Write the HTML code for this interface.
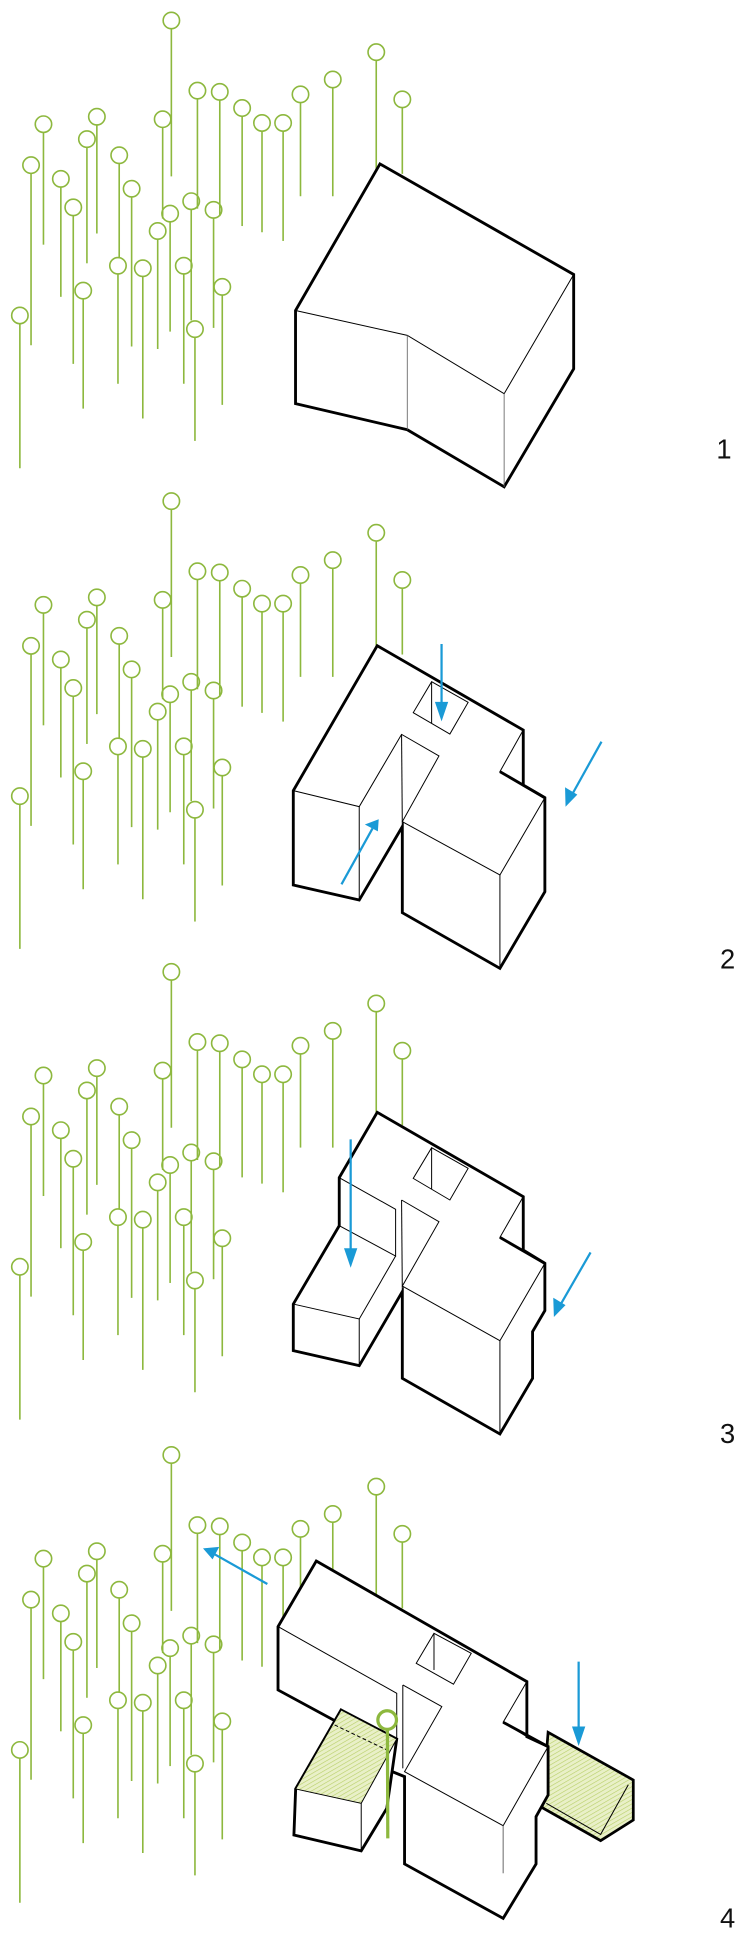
<!DOCTYPE html>
<html><head><meta charset="utf-8"><style>
html,body{margin:0;padding:0;background:#fff;}
svg{display:block;}
</style></head><body>
<svg width="750" height="1935" viewBox="0 0 604 1558" preserveAspectRatio="none" xmlns="http://www.w3.org/2000/svg">
<defs>
<pattern id="gr" width="3" height="3" patternUnits="userSpaceOnUse" patternTransform="rotate(60)">
<rect width="3" height="3" fill="#e9f0c8"/><line x1="0" y1="0" x2="0" y2="3" stroke="#b9cf6a" stroke-width="1"/>
</pattern>
<g id="trees" fill="none" stroke="#8db83e" stroke-width="1.3">
<g id="p">
<circle cx="138" cy="16.5" r="6.6"/><line x1="138" y1="23" x2="138" y2="142"/>
<circle cx="303" cy="42" r="6.6"/><line x1="303" y1="48.6" x2="303" y2="140"/>
<circle cx="268" cy="64" r="6.6"/><line x1="268" y1="70.6" x2="268" y2="158"/>
<circle cx="242" cy="76" r="6.6"/><line x1="242" y1="82.6" x2="242" y2="158"/>
<circle cx="324" cy="80" r="6.6"/><line x1="324" y1="86.6" x2="324" y2="140"/>
<circle cx="159" cy="73" r="6.6"/><line x1="159" y1="79.6" x2="159" y2="168"/>
<circle cx="177" cy="74" r="6.6"/><line x1="177" y1="80.6" x2="177" y2="174"/>
<circle cx="195" cy="87" r="6.6"/><line x1="195" y1="93.6" x2="195" y2="182"/>
<circle cx="211" cy="99" r="6.6"/><line x1="211" y1="105.6" x2="211" y2="187"/>
<circle cx="228" cy="99" r="6.6"/><line x1="228" y1="105.6" x2="228" y2="194"/>
<circle cx="131" cy="96" r="6.6"/><line x1="131" y1="102.6" x2="131" y2="176"/>
<circle cx="35" cy="100" r="6.6"/><line x1="35" y1="106.6" x2="35" y2="197"/>
<circle cx="78" cy="94" r="6.6"/><line x1="78" y1="100.6" x2="78" y2="188"/>
<circle cx="70" cy="112" r="6.6"/><line x1="70" y1="118.6" x2="70" y2="212"/>
<circle cx="96" cy="125" r="6.6"/><line x1="96" y1="131.6" x2="96" y2="207"/>
<circle cx="25" cy="133" r="6.6"/><line x1="25" y1="139.6" x2="25" y2="278"/>
<circle cx="49" cy="144" r="6.6"/><line x1="49" y1="150.6" x2="49" y2="239"/>
<circle cx="106" cy="152" r="6.6"/><line x1="106" y1="158.6" x2="106" y2="279"/>
<circle cx="59" cy="167" r="6.6"/><line x1="59" y1="173.6" x2="59" y2="293"/>
<circle cx="154" cy="162" r="6.6"/><line x1="154" y1="168.6" x2="154" y2="258"/>
<circle cx="172" cy="169" r="6.6"/><line x1="172" y1="175.6" x2="172" y2="264"/>
<circle cx="137" cy="172" r="6.6"/><line x1="137" y1="178.6" x2="137" y2="267"/>
<circle cx="127" cy="186" r="6.6"/><line x1="127" y1="192.6" x2="127" y2="281"/>
<circle cx="95" cy="214" r="6.6"/><line x1="95" y1="220.6" x2="95" y2="309"/>
<circle cx="115" cy="216" r="6.6"/><line x1="115" y1="222.6" x2="115" y2="337"/>
<circle cx="148" cy="214" r="6.6"/><line x1="148" y1="220.6" x2="148" y2="309"/>
<circle cx="179" cy="231" r="6.6"/><line x1="179" y1="237.6" x2="179" y2="326"/>
<circle cx="67" cy="234" r="6.6"/><line x1="67" y1="240.6" x2="67" y2="329"/>
<circle cx="16" cy="254" r="6.6"/><line x1="16" y1="260.6" x2="16" y2="377"/>
<circle cx="157" cy="265" r="6.6"/><line x1="157" y1="271.6" x2="157" y2="355"/>
</g>
</g>
</defs>

<!-- Panel 1 -->
<use href="#trees"/>
<g stroke="#000" stroke-linejoin="miter">
<polygon points="306,132 462,221 462,297 406,392 328,346 238,325 238,250" fill="#fff" stroke-width="2.3"/>
<polyline points="238,250 328,270 406,317 462,221" fill="none" stroke-width="0.8"/>
<line x1="328" y1="270" x2="328" y2="346" stroke-width="0.7" stroke="#666"/>
<line x1="406" y1="317" x2="406" y2="392" stroke-width="0.7" stroke="#666"/>
</g>
<text x="583" y="369" font-family="Liberation Sans, sans-serif" font-size="22" fill="#111" text-anchor="middle">1</text>

<!-- Panel 2 -->
<use href="#trees" transform="translate(0,387)"/>
<g stroke="#000">
<polygon points="303.8,519.9 421.4,587.8 421.4,632.1 438.8,642.3 438.8,718 402.6,779.7 324,734.9 324,665.6 289.3,724.7 236.2,712.6 236.2,636.6" fill="#fff" stroke-width="2.3"/>
<g fill="none" stroke-width="0.8">
<polyline points="236.2,636.6 289.3,649.5 323.4,591.3 353.5,608.7 324,661.6 402.6,704.5 438.8,642.3"/>
<line x1="289.3" y1="649.5" x2="289.3" y2="724.7"/>
<line x1="323.4" y1="591.3" x2="324" y2="665.6"/>
<line x1="402.6" y1="704.5" x2="402.6" y2="779.7"/>
<polyline points="421.4,587.8 402.6,621.3 421.4,632.1"/>
<polygon points="347.6,548.9 377,565.5 362.3,591 332.8,573.8"/>
<line x1="347.6" y1="548.9" x2="347.6" y2="582.4"/>
</g>
<line x1="402.6" y1="621.3" x2="438.8" y2="642.3" stroke-width="2.3"/>
</g>
<g stroke="#1a9ad6" stroke-width="1.8" fill="#1a9ad6">
<line x1="355.6" y1="518.5" x2="355.6" y2="570"/><polygon points="351.5,566 359.7,566 355.6,578"/>
<line x1="275" y1="712" x2="300" y2="667"/><polygon points="296,664 303.5,668 304,661"/>
<line x1="484.4" y1="597.2" x2="460" y2="641"/><polygon points="456,635.5 463.5,640 456.3,647.4"/>
</g>
<text x="586" y="780" font-family="Liberation Sans, sans-serif" font-size="22" fill="#111" text-anchor="middle">2</text>

<!-- Panel 3 -->
<use href="#trees" transform="translate(0,766)"/>
<g stroke="#000">
<polygon points="303.8,895.6 421.4,963.5 421.4,1006.5 438.8,1017.2 438.8,1055.3 428.9,1072.2 428.9,1109.8 402.6,1154.6 324,1109.8 324,1040 289.3,1099.6 236.2,1087.5 236.2,1050 273.2,986.9 273.2,948.2" fill="#fff" stroke-width="2.3"/>
<g fill="none" stroke-width="0.8">
<polyline points="273.2,948.2 318.6,973.7 318.6,1011.3 273.2,986.9"/>
<polyline points="318.6,1011.3 289.3,1062 236.2,1050"/>
<line x1="289.3" y1="1062" x2="289.3" y2="1099.6"/>
<polyline points="323.4,966.2 353.5,983.7 324,1035.5 402.6,1079.5 438.8,1017.2"/>
<line x1="323.4" y1="966.2" x2="324" y2="1040"/>
<line x1="402.6" y1="1079.5" x2="402.6" y2="1154.6"/>
<polyline points="421.4,963.5 402.6,996.3 421.4,1006.5"/>
<polygon points="347.6,924.1 377,940.7 362.3,966.2 332.8,948.8"/>
<line x1="347.6" y1="924.1" x2="347.6" y2="957.6"/>
</g>
<line x1="402.6" y1="996.3" x2="438.8" y2="1017.2" stroke-width="2.3"/>
</g>
<g stroke="#1a9ad6" stroke-width="1.8" fill="#1a9ad6">
<line x1="282.4" y1="917.4" x2="282.4" y2="1010"/><polygon points="278.3,1006 286.5,1006 282.4,1018"/>
<line x1="475.6" y1="1008.4" x2="450.5" y2="1052"/><polygon points="446.5,1046.5 454,1051 446.9,1058.3"/>
</g>
<text x="586" y="1162" font-family="Liberation Sans, sans-serif" font-size="22" fill="#111" text-anchor="middle">3</text>

<!-- Panel 4 -->
<use href="#trees" transform="translate(0,1155)"/>
<g stroke="#000">
<!-- right green ramp -->
<polygon points="441.4,1394.8 510,1433.2 510,1465.4 483.7,1482 436.6,1455.4" fill="url(#gr)" stroke-width="2.2"/>
<polyline points="506,1437 483.7,1477 440,1452" fill="none" stroke-width="0.8"/>
<!-- main -->
<polygon points="254.7,1256.9 424.3,1354 424.3,1398.3 441.4,1406.3 441.4,1445.3 431.7,1462.7 431.7,1500.8 405.2,1544.6 325.8,1500.8 325.8,1430.5 300,1420 271,1386.2 223.9,1360.7 223.9,1309.7" fill="#fff" stroke-width="2.3"/>
<g fill="none" stroke-width="0.8">
<polyline points="223.9,1309.7 319.5,1363.4 319.5,1399.6"/>
<polyline points="324.4,1356.7 355.8,1374.1 325.8,1426.5 405.2,1470 441.4,1406.3"/>
<line x1="324.4" y1="1356.7" x2="324.4" y2="1423.8"/>
<line x1="405.2" y1="1470" x2="405.2" y2="1508.3" stroke="#666"/>
<polyline points="424.3,1354 405.2,1386.7 424.3,1398.3"/>
<polygon points="349.5,1315.1 379.5,1331.2 365.2,1356.1 335.2,1339.2"/>
<line x1="349.5" y1="1315.1" x2="349.5" y2="1344.6"/>
</g>
<line x1="405.2" y1="1386.7" x2="441.4" y2="1406.3" stroke-width="2.3"/>
<!-- left green box -->
<polygon points="274.7,1376.8 319.5,1400.2 311.5,1456 290.9,1490.3 236.7,1477.5 238.1,1440.4" fill="#fff" stroke-width="2.3"/>
<polygon points="274.7,1376.8 319.5,1400.2 290.9,1452 238.1,1440.4" fill="url(#gr)" stroke-width="0.8"/>
<line x1="290.9" y1="1452" x2="290.9" y2="1490.3" stroke-width="0.8"/>
<line x1="269.5" y1="1388.9" x2="311.5" y2="1409" stroke-width="0.8" stroke-dasharray="3,2"/>
</g>
<g fill="none" stroke="#8db83e" stroke-width="2.6">
<circle cx="311.8" cy="1384.9" r="7.5"/><line x1="312" y1="1392.4" x2="312.3" y2="1480.2"/>
</g>
<g stroke="#1a9ad6" stroke-width="1.8" fill="#1a9ad6">
<line x1="215.3" y1="1275.4" x2="172" y2="1251"/><polygon points="175,1246.5 171,1254 165.3,1247.4"/>
<line x1="466" y1="1337.9" x2="466" y2="1395"/><polygon points="461.9,1391 470.1,1391 466,1403"/>
</g>
<text x="586" y="1552" font-family="Liberation Sans, sans-serif" font-size="22" fill="#111" text-anchor="middle">4</text>
</svg>
</body></html>
